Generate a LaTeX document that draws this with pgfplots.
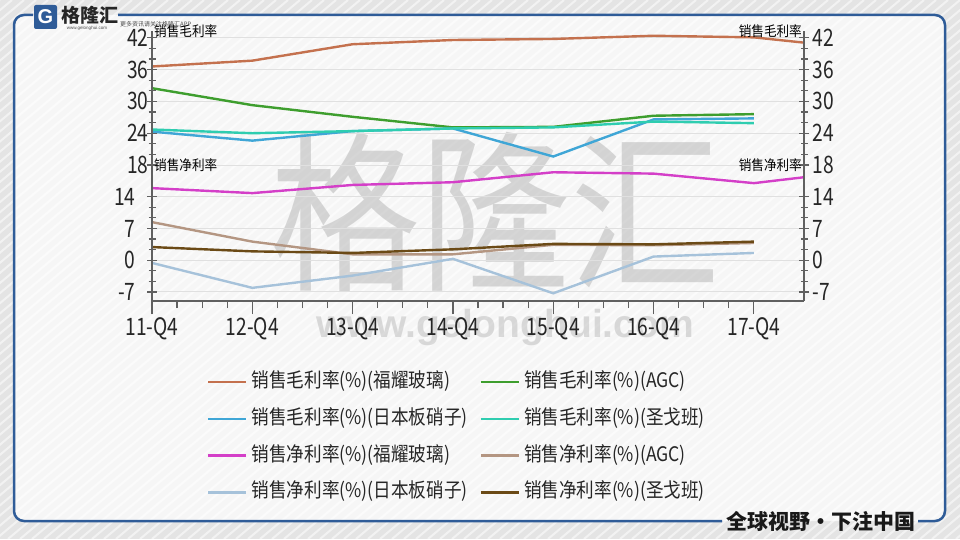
\documentclass[border=0pt]{standalone}
\usepackage{fontspec}
\usepackage{pgfplots}
\pgfplotsset{compat=1.18}
\setmainfont{Noto Sans CJK SC}
\newfontfamily\tickfont{Noto Sans CJK SC}[FakeStretch=0.8]
\newfontfamily\legfont{Noto Sans CJK SC}[FakeStretch=0.88]
\newfontfamily\smallfont{Noto Sans CJK SC}[FakeStretch=0.9]
\newfontfamily\latinbold{Liberation Sans}
\definecolor{bg}{HTML}{E4E4E4}
\definecolor{frameblue}{HTML}{2F5C98}
\definecolor{axgray}{HTML}{606060}
\definecolor{gridc}{HTML}{E0E0E0}
\definecolor{cFY}{HTML}{C4714E}
\definecolor{cAGC}{HTML}{3E9E2E}
\definecolor{cNSG}{HTML}{3FA6D6}
\definecolor{cSG}{HTML}{2FCDB0}
\definecolor{nFY}{HTML}{D43FC8}
\definecolor{nAGC}{HTML}{B49682}
\definecolor{nNSG}{HTML}{A6C2DA}
\definecolor{nSG}{HTML}{6B4A16}
\pgfplotsset{
  panel/.style={scale only axis, width=652pt, xmin=0, xmax=6.5, anchor=south west,
    axis line style={draw=none}, clip=false},
  ticklab/.style={font=\tickfont\fontsize{24}{24}\selectfont, text=black!85},
  every axis plot/.append style={line width=2.4pt},
}
\begin{document}
\begin{tikzpicture}
\useasboundingbox (0pt,0pt) rectangle (960pt,539pt);
% background
\fill[bg] (0pt,0pt) rectangle (960pt,539pt);
\begin{scope}
\clip (0pt,0pt) rectangle (960pt,539pt);
\foreach \i in {-700,-688,...,960} {\draw[white, line width=2pt, opacity=0.55] (\i pt,0pt) -- ++(640pt,539pt);}
\end{scope}
\fill[white, opacity=0.7, rounded corners=10pt] (14pt,18pt) rectangle (945pt,524pt);
% frame
\draw[frameblue, line width=2.5pt, rounded corners=10pt] (33pt,524pt) -- (14pt,524pt) -- (14pt,18pt) -- (722pt,18pt);
\draw[frameblue, line width=2.5pt, rounded corners=10pt] (118pt,524pt) -- (945pt,524pt) -- (945pt,18pt) -- (918pt,18pt);
% watermark
\node[text=gray!60, opacity=0.5, inner sep=0pt] at (495pt,327pt) {\scalebox{1}[1.15]{\fontsize{150}{150}\selectfont 格隆汇}};
\node[text=gray!50, opacity=0.55, inner sep=0pt] at (505pt,212pt) {\latinbold\bfseries\fontsize{39}{39}\selectfont www.gelonghui.com};

% upper panel (gross margin)
\begin{axis}[panel, at={(152pt,374pt)}, height=134pt,
  ymin=18, ymax=43.3, xtick=\empty,
  ytick={18,24,30,36,42}, yticklabels={18,24,30,36,42},
  ytick pos=left, y tick style={draw=none}, yticklabel style={ticklab},
  ymajorgrids, major grid style={gridc, line width=1pt}]
\addplot[cFY] coordinates {(0,36.6) (1,37.7) (2,40.8) (3,41.6) (4,41.8) (5,42.4) (6,42.1) (6.5,41.1)};
\addplot[cAGC] coordinates {(0,32.5) (1,29.3) (2,27.1) (3,25.1) (4,25.2) (5,27.3) (6,27.6)};
\addplot[cNSG] coordinates {(0,24.3) (1,22.6) (2,24.4) (3,24.9) (4,19.6) (5,26.6) (6,26.8)};
\addplot[cSG] coordinates {(0,24.7) (1,24.0) (2,24.4) (3,24.9) (4,25.1) (5,26.2) (6,25.9)};
\draw[axgray, line width=1.6pt] (rel axis cs:0,0) -- (rel axis cs:0,1);
\draw[axgray, line width=1.6pt] (rel axis cs:1,0) -- (rel axis cs:1,1);
\node[anchor=west, inner sep=2pt, font=\smallfont\fontsize{14}{14}\selectfont] at (rel axis cs:0,1) {销售毛利率};
\node[anchor=east, inner sep=2pt, font=\smallfont\fontsize{14}{14}\selectfont] at (rel axis cs:1,1) {销售毛利率};
\end{axis}
\begin{axis}[panel, at={(152pt,374pt)}, height=134pt,
  ymin=18, ymax=43.3, hide x axis,
  ytick={18,24,30,36,42}, yticklabels={18,24,30,36,42},
  ytick pos=both, yticklabel pos=right, minor y tick num=2,
  tick align=center, major tick length=10pt, minor tick length=7pt,
  y tick style={axgray, line width=1.2pt}, yticklabel style={ticklab}]
\end{axis}

% lower panel (net margin)
\begin{axis}[panel, at={(152pt,238pt)}, height=136pt,
  ymin=-9, ymax=21,
  xtick={0,...,6}, xticklabels={11-Q4,12-Q4,13-Q4,14-Q4,15-Q4,16-Q4,17-Q4},
  xtick pos=left, minor x tick num=3, tick align=outside,
  major tick length=13pt, minor tick length=7pt,
  x tick style={axgray, line width=1.2pt}, xticklabel style={ticklab},
  ytick={-7,0,7,14}, yticklabels={-7,0,7,14},
  ytick pos=left, y tick style={draw=none}, yticklabel style={ticklab},
  ymajorgrids, major grid style={gridc, line width=1pt},
  legend columns=2, legend cell align=left,
  legend image code/.code={\draw[#1] (0pt,0pt) -- (38pt,0pt);},
  legend style={at={(axis description cs:0.0844,-0.526)}, anchor=north west,
    draw=none, fill=none, inner sep=0pt,
    font=\legfont\fontsize{20}{24}\selectfont, text=black!85,
    nodes={inner ysep=0pt, inner xsep=4pt, text height=15pt, text depth=4pt},
    row sep=17.7pt,
    /tikz/every even column/.append style={column sep=8pt}}]
\addlegendimage{cFY, line width=2.4pt}
\addlegendentry{销售毛利率(\%)(福耀玻璃)}
\addlegendimage{cAGC, line width=2.4pt}
\addlegendentry{销售毛利率(\%)(AGC)}
\addlegendimage{cNSG, line width=2.4pt}
\addlegendentry{销售毛利率(\%)(日本板硝子)}
\addlegendimage{cSG, line width=2.4pt}
\addlegendentry{销售毛利率(\%)(圣戈班)}
\addplot[nFY] coordinates {(0,15.9) (1,14.8) (2,16.6) (3,17.2) (4,19.4) (5,19.1) (6,17.0) (6.5,18.3)};
\addlegendentry{销售净利率(\%)(福耀玻璃)}
\addplot[nAGC] coordinates {(0,8.4) (1,4.1) (2,1.3) (3,1.3) (4,3.4) (5,3.3) (6,3.8)};
\addlegendentry{销售净利率(\%)(AGC)}
\addplot[nNSG] coordinates {(0,-0.6) (1,-6.1) (2,-3.4) (3,0.3) (4,-7.3) (5,0.8) (6,1.6)};
\addlegendentry{销售净利率(\%)(日本板硝子)}
\addplot[nSG] coordinates {(0,2.9) (1,1.95) (2,1.6) (3,2.4) (4,3.6) (5,3.5) (6,4.1)};
\addlegendentry{销售净利率(\%)(圣戈班)}
\draw[axgray, line width=1.6pt] (rel axis cs:0,0) -- (rel axis cs:0,1);
\draw[axgray, line width=1.6pt] (rel axis cs:1,0) -- (rel axis cs:1,1);
\draw[axgray, line width=1.6pt] (rel axis cs:0,0) -- (rel axis cs:1,0);
\node[anchor=west, inner sep=2pt, font=\smallfont\fontsize{14}{14}\selectfont] at (rel axis cs:0,1) {销售净利率};
\node[anchor=east, inner sep=2pt, font=\smallfont\fontsize{14}{14}\selectfont] at (rel axis cs:1,1) {销售净利率};
\end{axis}
\begin{axis}[panel, at={(152pt,238pt)}, height=136pt,
  ymin=-9, ymax=21, hide x axis,
  ytick={-7,0,7,14}, yticklabels={-7,0,7,14},
  ytick pos=both, yticklabel pos=right, minor y tick num=2,
  tick align=center, major tick length=10pt, minor tick length=7pt,
  y tick style={axgray, line width=1.2pt}, yticklabel style={ticklab}]
\end{axis}

% logo and slogan
\fill[frameblue, rounded corners=2pt] (34pt,510pt) rectangle (57pt,534pt);
\node[text=white, inner sep=0pt, font=\latinbold\bfseries\fontsize{20}{20}\selectfont] at (45.5pt,522pt) {G};
\node[anchor=west, inner sep=0pt, text=black!85, font=\bfseries\fontsize{19}{19}\selectfont] at (61pt,524pt) {格隆汇};
\node[inner sep=0pt, text=black!70, font=\latinbold\fontsize{4.5}{5}\selectfont] at (87pt,511pt) {www.gelonghui.com};
\node[anchor=west, inner sep=0pt, text=black!70, font=\fontsize{6}{6}\selectfont] at (120pt,515pt) {更多资讯请关注格隆汇APP};
\node[inner sep=0pt, text=black!90, font=\bfseries\fontsize{21}{21}\selectfont] at (821pt,18pt) {全球视野・下注中国};
\end{tikzpicture}
\end{document}
